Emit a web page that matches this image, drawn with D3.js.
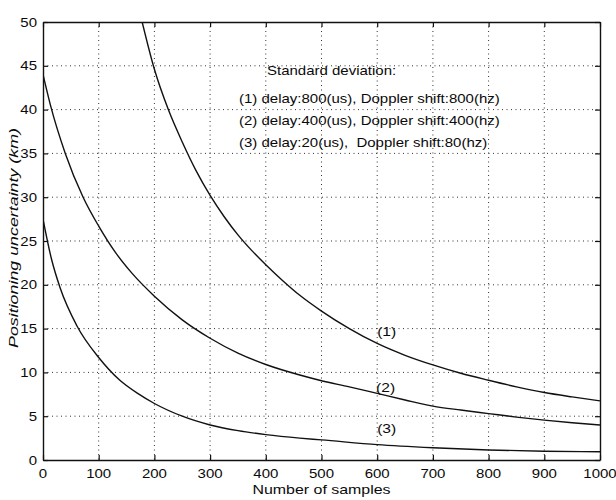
<!DOCTYPE html>
<html>
<head>
<meta charset="utf-8">
<script src="https://cdn.jsdelivr.net/npm/d3@7"></script>
<style>
  html, body { margin: 0; padding: 0; background: #fff; }
  svg { display: block; }
  text { font-family: "Liberation Sans", Arial, Helvetica, sans-serif; fill: #0a0a0a; }
</style>
</head>
<body>
<svg id="chart" width="616" height="500"></svg>
<script>
// Tick values
const xTicks = [0, 100, 200, 300, 400, 500, 600, 700, 800, 900, 1000];
const yTicks = [0, 5, 10, 15, 20, 25, 30, 35, 40, 45, 50];

// Curve (1): delay 800 us, Doppler 800 Hz
const samples1 = [178, 200, 225, 250, 275, 300, 325, 350, 375, 400, 430, 461, 500, 550, 600, 650, 700, 750, 800, 850, 900, 950, 1000];
const uncert1  = [50, 44.6, 40.0, 36.3, 33.0, 30.2, 27.8, 25.7, 23.9, 22.3, 20.5, 18.8, 17.0, 15.0, 13.3, 11.95, 10.85, 9.9, 9.1, 8.35, 7.7, 7.2, 6.75];

// Curve (2): delay 400 us, Doppler 400 Hz
const samples2 = [0, 13, 40, 72, 100, 130, 160, 200, 250, 300, 350, 400, 461, 500, 550, 600, 650, 700, 750, 800, 850, 900, 950, 1000];
const uncert2  = [44, 40.6, 35.0, 30.0, 26.7, 23.7, 21.3, 18.7, 16.0, 13.9, 12.2, 10.9, 9.7, 9.05, 8.35, 7.6, 6.85, 6.15, 5.7, 5.3, 4.9, 4.55, 4.25, 4.0];

// Curve (3): delay 20 us, Doppler 80 Hz
const samples3 = [0, 15, 31, 61, 100, 138, 170, 200, 250, 300, 350, 400, 461, 500, 600, 700, 800, 900, 1000];
const uncert3  = [27.5, 23.0, 19.6, 15.3, 11.7, 9.1, 7.6, 6.45, 5.0, 4.0, 3.35, 2.9, 2.5, 2.3, 1.75, 1.4, 1.15, 1.0, 0.95];

// Curve tags and where they sit (sample, km)
const tagText = ["(1)", "(2)", "(3)"];
const tagX    = [617, 615, 617];
const tagY    = [14.7, 8.3, 3.65];

const legendLines = [
  "Standard deviation:",
  "(1) delay:800(us), Doppler shift:800(hz)",
  "(2) delay:400(us), Doppler shift:400(hz)",
  "(3) delay:20(us),  Doppler shift:80(hz)"
];

const xTitle = "Number of samples";
const yTitle = "Positioning uncertainty (km)";

// ---- layout ----
const frame = { left: 43, top: 22, right: 600, bottom: 460 };
const W = frame.right - frame.left, H = frame.bottom - frame.top;
const WIDEN = 1.2;           // glyphs in this figure are set wide
const FS = 12.5;

const svg = d3.select("#chart");
const x = d3.scaleLinear().domain([0, 1000]).range([0, W]);
const y = d3.scaleLinear().domain([0, 50]).range([H, 0]);

const g = svg.append("g").attr("transform", `translate(${frame.left},${frame.top})`);

// text helper: widened glyphs around an anchor point
function wideText(parent, px, py, str, anchor, size) {
  return parent.append("text")
    .attr("transform", `translate(${px},${py}) scale(${WIDEN},1)`)
    .attr("text-anchor", anchor || "start")
    .attr("font-size", size || FS)
    .style("white-space", "pre")
    .text(str);
}

// dotted grid
const grid = g.append("g").attr("stroke", "#333").attr("stroke-width", 1)
  .attr("stroke-dasharray", "1,3.5");
grid.selectAll(".gx").data(xTicks.slice(1, -1)).join("line")
  .attr("x1", d => x(d)).attr("x2", d => x(d)).attr("y1", 0).attr("y2", H);
grid.selectAll(".gy").data(yTicks.slice(1, -1)).join("line")
  .attr("y1", d => y(d)).attr("y2", d => y(d)).attr("x1", 0).attr("x2", W);

// inward ticks on all four sides
const TL = 5;
const axB = g.append("g").attr("transform", `translate(0,${H})`)
  .call(d3.axisBottom(x).tickValues(xTicks).tickSizeInner(-TL).tickSizeOuter(0).tickFormat(""));
const axT = g.append("g")
  .call(d3.axisTop(x).tickValues(xTicks).tickSizeInner(-TL).tickSizeOuter(0).tickFormat(""));
const axL = g.append("g")
  .call(d3.axisLeft(y).tickValues(yTicks).tickSizeInner(-TL).tickSizeOuter(0).tickFormat(""));
const axR = g.append("g").attr("transform", `translate(${W},0)`)
  .call(d3.axisRight(y).tickValues(yTicks).tickSizeInner(-TL).tickSizeOuter(0).tickFormat(""));
[axB, axT, axL, axR].forEach(a => {
  a.selectAll(".domain").attr("stroke", "#111").attr("stroke-width", 1.4);
  a.selectAll(".tick line").attr("stroke", "#111").attr("stroke-width", 1.2);
});

// tick labels
xTicks.forEach(v => wideText(g, x(v), H + 17.5, String(v), "middle"));
yTicks.forEach(v => wideText(g, -6, y(v) + 4.5, String(v), "end"));

// curves
const line = d3.line().x(d => x(d[0])).y(d => y(d[1])).curve(d3.curveMonotoneX);
g.append("clipPath").attr("id", "plotClip").append("rect")
  .attr("x", 0).attr("y", 0).attr("width", W).attr("height", H);
[[samples1, uncert1], [samples2, uncert2], [samples3, uncert3]].forEach(([s, u]) => {
  g.append("path")
    .datum(s.map((v, i) => [v, u[i]]))
    .attr("clip-path", "url(#plotClip)")
    .attr("fill", "none").attr("stroke", "#111").attr("stroke-width", 1.4)
    .attr("d", line);
});

// curve tags
tagText.forEach((t, i) => wideText(g, x(tagX[i]), y(tagY[i]) + 4.5, t, "middle", 13));

// legend block
const legX = [224, 196, 196, 196];
const legY = [52.5, 80.5, 102.5, 124.5];
legendLines.forEach((t, i) => wideText(g, legX[i], legY[i], t, "start", FS));

// axis titles
svg.append("text")
  .attr("x", frame.left + W / 2).attr("y", 494)
  .attr("text-anchor", "middle").attr("font-size", 13)
  .attr("textLength", 138).attr("lengthAdjust", "spacingAndGlyphs")
  .text(xTitle);
svg.append("text")
  .attr("transform", `translate(18,238) rotate(-90)`)
  .attr("text-anchor", "middle").attr("font-size", 13).attr("font-style", "italic")
  .attr("textLength", 220).attr("lengthAdjust", "spacingAndGlyphs")
  .text(yTitle);
</script>
</body>
</html>
